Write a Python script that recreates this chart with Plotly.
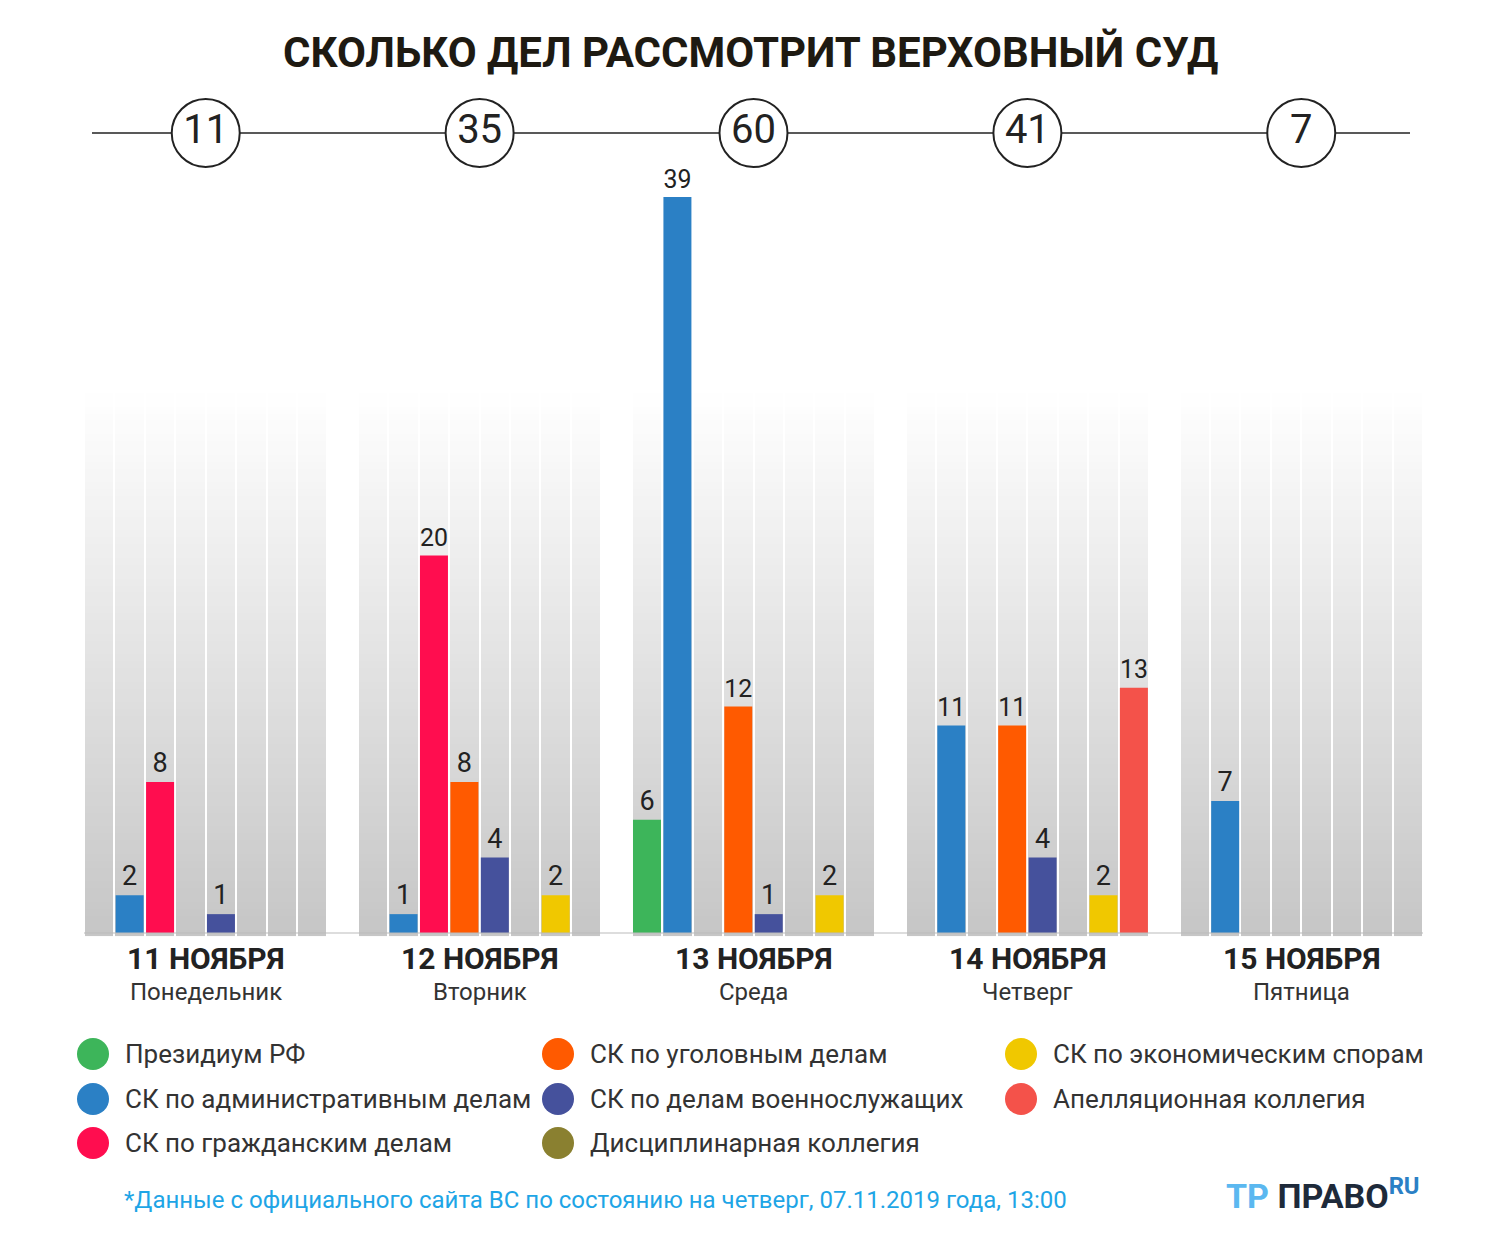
import numpy as np
import plotly.graph_objects as go

# ---- data ----
days = ["11 НОЯБРЯ", "12 НОЯБРЯ", "13 НОЯБРЯ", "14 НОЯБРЯ", "15 НОЯБРЯ"]
weekdays = ["Понедельник", "Вторник", "Среда", "Четверг", "Пятница"]
totals = [11, 35, 60, 41, 7]
categories = ["Президиум РФ", "СК по административным делам", "СК по гражданским делам",
              "СК по уголовным делам", "СК по делам военнослужащих",
              "СК по экономическим спорам", "Дисциплинарная коллегия",
              "Апелляционная коллегия"]
colors = ["#3db55a", "#2b80c5", "#ff0d4f", "#ff5a00", "#45519c",
          "#f0c800", "#8a8030", "#f4524a"]
# slot of each category inside a day group
slots = [0, 1, 2, 3, 4, 6, 5, 7]
# values[category][day]
values = [
    [0, 0, 6, 0, 0],
    [2, 1, 39, 11, 7],
    [8, 20, 0, 0, 0],
    [0, 8, 12, 11, 0],
    [1, 4, 1, 4, 0],
    [0, 2, 2, 2, 0],
    [0, 0, 0, 0, 0],
    [0, 0, 0, 13, 0],
]
legend_cols = [0, 0, 0, 1, 1, 2, 1, 2]
legend_rows = [0, 1, 2, 0, 1, 0, 2, 1]

W, H = 1500, 1243
OFF = 8  # page body margin
PX = 1339 / 44.0
PY = 736 / 39.0
FONT = "Roboto"

def xd(px):
    return (px - 84) / PX - 0.5

def yd(py):
    return (933 - py) / PY

def xpos(g, s):
    return g * 9 + s

fig = go.Figure()

# gray gradient columns (heatmap, drawn below bars)
hx = list(range(0, 44))
hy = np.linspace(0, 28.8, 80)
z = []
for yy in hy:
    z.append([None if x % 9 == 8 else yy for x in hx])
fig.add_trace(go.Heatmap(x=hx, y=hy, z=z, xgap=2, showscale=False, hoverinfo="skip",
                         colorscale=[[0, "#c6c6c6"], [1, "#ffffff"]], zmin=0, zmax=28.8))

# bars
for c, name in enumerate(categories):
    xs, ys, txt = [], [], []
    for g in range(5):
        v = values[c][g]
        if v > 0:
            xs.append(xpos(g, slots[c]))
            ys.append(v)
            txt.append(str(v))
    if not xs:
        continue
    fig.add_trace(go.Bar(x=xs, y=ys, width=0.92, marker_color=colors[c],
                         marker_line_width=0, text=txt, textposition="outside",
                         textfont=dict(family=FONT, size=27, color="#222"),
                         cliponaxis=False, showlegend=False, name=name))

# top line and circles
ytop = yd(133)
fig.add_shape(type="line", x0=xd(92), x1=xd(1410), y0=ytop, y1=ytop,
              line=dict(color="#222", width=1.5), layer="below")
fig.add_trace(go.Scatter(
    x=[xpos(g, 3.5) for g in range(5)], y=[ytop] * 5, mode="markers+text",
    marker=dict(size=68, color="white", line=dict(color="#222", width=2)),
    text=[str(t) for t in totals], textposition="middle center",
    textfont=dict(family=FONT, size=40, color="#222"),
    cliponaxis=False, showlegend=False, hoverinfo="skip"))

# day labels
for g in range(5):
    fig.add_annotation(x=xpos(g, 3.5), y=yd(958), text="<b>" + days[g] + "</b>",
                       showarrow=False, yanchor="middle",
                       font=dict(family=FONT, size=30, color="#222"))
    fig.add_annotation(x=xpos(g, 3.5), y=yd(992), text=weekdays[g],
                       showarrow=False, yanchor="middle",
                       font=dict(family=FONT, size=24, color="#333"))

# legend
col_x = [93, 558, 1021]
row_y = [1054, 1099, 1143]
for c, name in enumerate(categories):
    cx = col_x[legend_cols[c]]
    cy = row_y[legend_rows[c]]
    fig.add_shape(type="circle", x0=xd(cx - 16), x1=xd(cx + 16),
                  y0=yd(cy + 16), y1=yd(cy - 16), fillcolor=colors[c], line_width=0)
    fig.add_annotation(x=xd(cx + 30), y=yd(cy), xanchor="left", yanchor="middle",
                       text=name, showarrow=False,
                       font=dict(family=FONT, size=26, color="#333"))

# title, footnote, logo
fig.add_annotation(x=xd(750), y=yd(52), showarrow=False, yanchor="middle",
                   text="<b>СКОЛЬКО ДЕЛ РАССМОТРИТ ВЕРХОВНЫЙ СУД</b>",
                   font=dict(family=FONT, size=42, color="#1e1a12"))
fig.add_annotation(x=xd(122), y=yd(1200), xanchor="left", yanchor="middle", showarrow=False,
                   text="*Данные с официального сайта ВС по состоянию на четверг, 07.11.2019 года, 13:00",
                   font=dict(family=FONT, size=24, color="#1ea5e6"))
fig.add_annotation(x=xd(1422), y=yd(1194), xanchor="right", yanchor="middle", showarrow=False,
                   text="<span style='color:#5bb8f0'><b>TP</b></span> <b>ПРАВО</b><sup><span style='color:#2b80c5'><b>RU</b></span></sup>",
                   font=dict(family="Roboto", size=34, color="#1e2a3a"))

fig.add_shape(type="line", x0=-0.5, x1=43.5, y0=0, y1=0, line=dict(color="#bbb", width=1))

fig.update_layout(
    width=W, height=H, margin=dict(l=0, r=0, t=0, b=0),
    paper_bgcolor="white", plot_bgcolor="white", barmode="overlay",
    xaxis=dict(range=[xd(OFF), xd(W + OFF)], visible=False, fixedrange=True),
    yaxis=dict(range=[yd(H + OFF), yd(OFF)], visible=False, fixedrange=True),
    showlegend=False,
)

fig.write_html("out.html")
